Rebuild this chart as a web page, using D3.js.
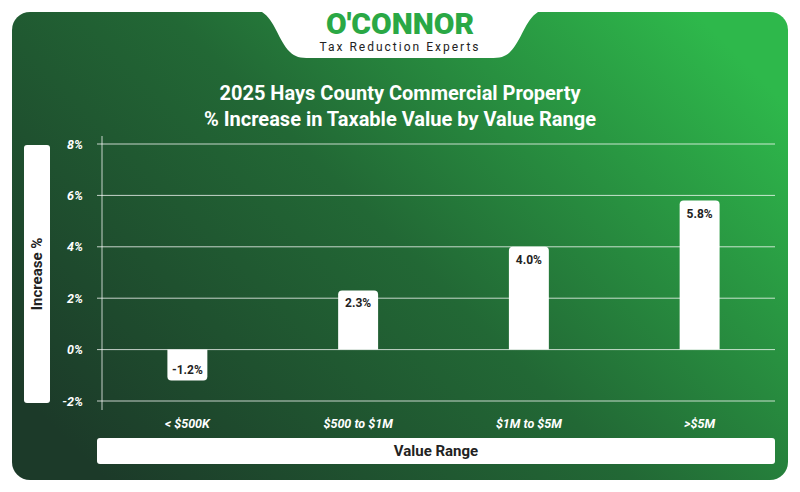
<!DOCTYPE html><html><head><meta charset="utf-8">
<script src="https://cdn.jsdelivr.net/npm/d3@7"></script>
<style>body{margin:0;background:#fff}svg{display:block}</style></head><body>
<svg id="c" width="800" height="492"></svg>
<script>
const categories=["< $500K","$500 to $1M","$1M to $5M",">$5M"];
const values=[-1.2,2.3,4.0,5.8];
const tickValues=[-2,0,2,4,6,8];
const svg=d3.select("#c");
const defs=svg.append("defs");
const g=defs.append("linearGradient").attr("id","bg").attr("x1","0").attr("y1","0.8").attr("x2","1").attr("y2","0.2");
g.append("stop").attr("offset","0").attr("stop-color","#1c3a29");
g.append("stop").attr("offset","0.5").attr("stop-color","#226835");
g.append("stop").attr("offset","1").attr("stop-color","#2eb84b");
svg.append("rect").attr("x",12).attr("y",12).attr("width",776).attr("height",468).attr("rx",18).attr("fill","url(#bg)");
svg.append("path").attr("d","M262,12 L538,12 C525,20 522,40 510,52 C505,57 500,58 490,58 L310,58 C300,58 295,57 290,52 C278,40 275,20 262,12Z").attr("fill","#fff");
svg.append("text").attr("x",400).attr("y",34).attr("text-anchor","middle").attr("font-family","Roboto").attr("font-weight",900).attr("font-size",30).attr("fill","#2aa845").text("O'CONNOR");
svg.append("text").attr("x",400).attr("y",51).attr("text-anchor","middle").attr("font-family","Roboto").attr("font-size",12).attr("letter-spacing",2).attr("fill","#222").text("Tax Reduction Experts");
const t=svg.append("text").attr("text-anchor","middle").attr("font-family","Roboto").attr("font-weight",700).attr("font-size",20).attr("fill","#fff");
t.append("tspan").attr("x",400).attr("y",100).text("2025 Hays County Commercial Property");
t.append("tspan").attr("x",400).attr("y",126).text("% Increase in Taxable Value by Value Range");
const y=d3.scaleLinear().domain([-2,8]).range([401,144]);
const x=d3.scaleBand().domain(categories).range([102,785]).paddingInner(0.766).paddingOuter(0.383);
const ga=svg.append("g").attr("transform","translate(97,0)").call(d3.axisLeft(y).tickValues(tickValues).tickSize(0).tickPadding(14).tickFormat(d=>d+"%"));
ga.select(".domain").remove();
ga.selectAll("text").attr("font-family","Roboto").attr("font-style","italic").attr("font-weight",700).attr("font-size",12.5).attr("fill","#fff");
svg.append("g").selectAll("line").data(tickValues).join("line").attr("x1",97).attr("x2",775).attr("y1",d=>y(d)).attr("y2",d=>y(d)).attr("stroke","#fff").attr("stroke-opacity",0.75).attr("stroke-width",1);
svg.append("line").attr("x1",102).attr("x2",102).attr("y1",136).attr("y2",410).attr("stroke","#fff").attr("stroke-opacity",0.75);
const r=4;
svg.append("g").selectAll("path").data(values).join("path").attr("fill","#fff").attr("d",(d,i)=>{
 const x0=x(categories[i]),w=x.bandwidth();
 if(d>=0){const yt=y(d),yb=y(0);return `M${x0},${yb}V${yt+r}Q${x0},${yt} ${x0+r},${yt}H${x0+w-r}Q${x0+w},${yt} ${x0+w},${yt+r}V${yb}Z`;}
 const yt=y(0),yb=y(d);return `M${x0},${yt}V${yb-r}Q${x0},${yb} ${x0+r},${yb}H${x0+w-r}Q${x0+w},${yb} ${x0+w},${yb-r}V${yt}Z`;});
svg.append("g").selectAll("text").data(values).join("text").attr("text-anchor","middle").attr("font-family","Roboto").attr("font-weight",700).attr("font-size",12).attr("fill","#222")
 .attr("x",(d,i)=>x(categories[i])+x.bandwidth()/2).attr("y",d=>d>=0?y(d)+17:y(d)-6).text(d=>d.toFixed(1)+"%");
const gx=svg.append("g").attr("transform","translate(0,410)").call(d3.axisBottom(x).tickSize(0).tickPadding(9));
gx.select(".domain").remove();
gx.selectAll("text").attr("font-family","Roboto").attr("font-style","italic").attr("font-weight",700).attr("font-size",12.5).attr("fill","#fff");
svg.append("rect").attr("x",24).attr("y",145).attr("width",26).attr("height",258).attr("rx",3).attr("fill","#fff");
svg.append("text").attr("transform","translate(42,274) rotate(-90)").attr("text-anchor","middle").attr("font-family","Roboto").attr("font-weight",700).attr("font-size",15).attr("fill","#222").text("Increase %");
svg.append("rect").attr("x",97).attr("y",438).attr("width",678).attr("height",26).attr("rx",3).attr("fill","#fff");
svg.append("text").attr("x",436).attr("y",456).attr("text-anchor","middle").attr("font-family","Roboto").attr("font-weight",700).attr("font-size",15).attr("fill","#222").text("Value Range");
</script></body></html>
